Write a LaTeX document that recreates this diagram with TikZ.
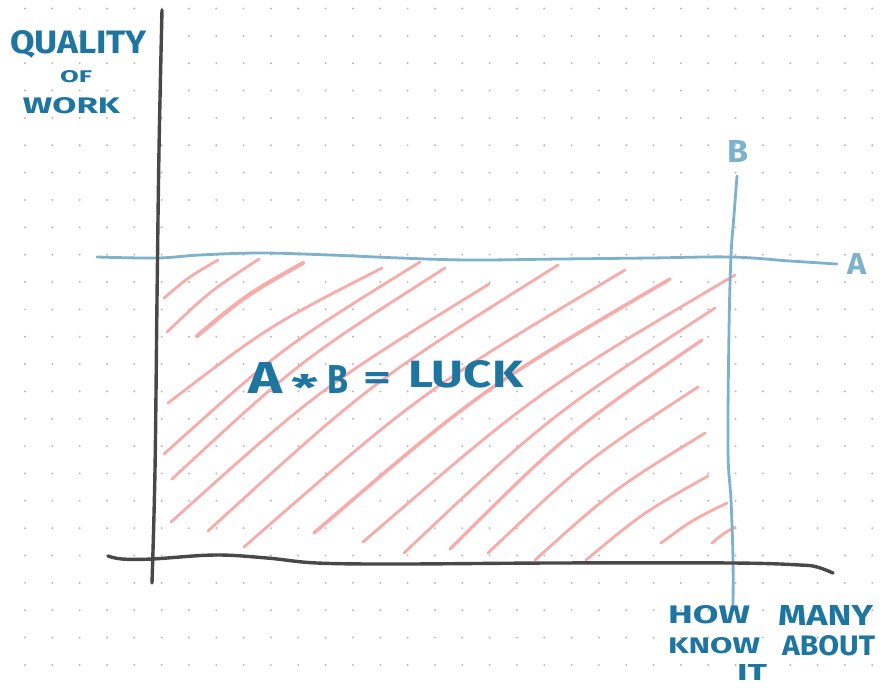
\documentclass[tikz,border=0pt]{standalone}
\usepackage{fontspec}
\usepackage{graphicx}
\newfontfamily\hand{Fira Sans}
\definecolor{ink}{RGB}{30,118,160}
\definecolor{lblue}{RGB}{125,178,204}
\definecolor{pinkh}{RGB}{248,172,170}
\definecolor{axisc}{RGB}{72,72,72}
\definecolor{dotc}{RGB}{185,185,185}
\newcommand{\hw}[3]{\resizebox{#1pt}{#2pt}{\hand\bfseries #3}}
\begin{document}
\begin{tikzpicture}[x=1pt,y=-1pt,
  axisline/.style={axisc, line width=3.4pt, line cap=round, line join=round},
  blueline/.style={lblue, line width=2.8pt, line cap=round, line join=round},
  hatchline/.style={pinkh, line cap=round},
  word/.style={anchor=base west, inner sep=0pt, outer sep=0pt, text=ink},
  lword/.style={anchor=base west, inner sep=0pt, outer sep=0pt, text=lblue}]
\useasboundingbox (0,0) rectangle (890,691);
\fill[white] (0,0) rectangle (890,691);
% dot grid
\foreach \i in {0,...,31}{
  \foreach \j in {0,...,24}{
    \fill[dotc] ({25+27.33*\i},{8.5+27.35*\j}) circle[radius=1.1pt];
  }
}
% pink hatching
\foreach \bx/\by/\tx/\ty/\w in {
  164/298/218/260/2.8, 167/332/259/259/2.8, 197/336/303/263/4.2,
  168/403/382/268/2.8, 164/454/420/262/2.8, 172/479/445/268/2.8,
  171/522/489/284/2.8, 208/531/558/265/2.8, 244/547/625/270/2.8,
  314/533/670/279/3.6, 363/542/735/275/2.8, 404/553/715/308/2.8,
  450/549/702/340/3.2, 488/553/698/387/2.8, 535/560/705/433/2.8,
  586/560/708/476/2.8, 661/543/727/503/2.8, 712/543/735/527/2.8}{
  \pgfmathsetmacro{\cx}{(\bx+\tx)/2+0.045*(\ty-\by)}
  \pgfmathsetmacro{\cy}{(\by+\ty)/2-0.045*(\tx-\bx)}
  \draw[hatchline, line width=\w pt] (\bx,\by) .. controls (\cx,\cy) .. (\tx,\ty);
}
% blue lines A and B
\draw[blueline] plot[smooth, tension=0.6] coordinates {(97,257) (157,258) (200,255) (260,253) (330,255) (400,258) (470,260) (560,259) (650,258) (731,257) (790,261) (837,264)};
\draw[blueline] plot[smooth, tension=0.6] coordinates {(737,176) (734,215) (731,256) (729,330) (728,450) (731,500) (733,560) (733,607)};
% axes
\draw[axisline] plot[smooth, tension=0.6] coordinates {(162,10) (159,150) (157,300) (155,470) (152,583)};
\draw[axisline] plot[smooth, tension=0.6] coordinates {(108,556) (122,559) (152,559) (215,555) (267,558) (317,563) (400,564) (550,563) (733,563) (800,565) (817,567) (833,573)};
% texts
\node[word] (quality) at (10,53) {\hw{137}{23}{QUALITY}};
\node[word] (of) at (60,82) {\hw{32}{12}{OF}};
\node[word] (work) at (23,113) {\hw{97}{16}{WORK}};
\node[word] (eqa) at (248,393) {\hw{34}{31}{A}};
\node[word] (eqs) at (291,400) {\hw{27}{26}{*}};
\node[word] (eqb) at (327,393) {\hw{21}{28}{B}};
\node[word] (eqe) at (363,389) {\hw{28}{17}{=}};
\node[word] (luck) at (408,387) {\hw{115}{27}{LUCK}};
\node[lword] (lb) at (727,162) {\hw{21}{22}{B}};
\node[lword] (la) at (847,274) {\hw{19}{21}{A}};
\node[word] (how) at (668,623) {\hw{82}{18}{HOW}};
\node[word] (many) at (778,625) {\hw{95}{20}{MANY}};
\node[word] (know) at (668,653) {\hw{92}{16}{KNOW}};
\node[word] (about) at (782,655) {\hw{93}{20}{ABOUT}};
\node[word] (it) at (737,680) {\hw{30}{16}{IT}};
\end{tikzpicture}
\end{document}
